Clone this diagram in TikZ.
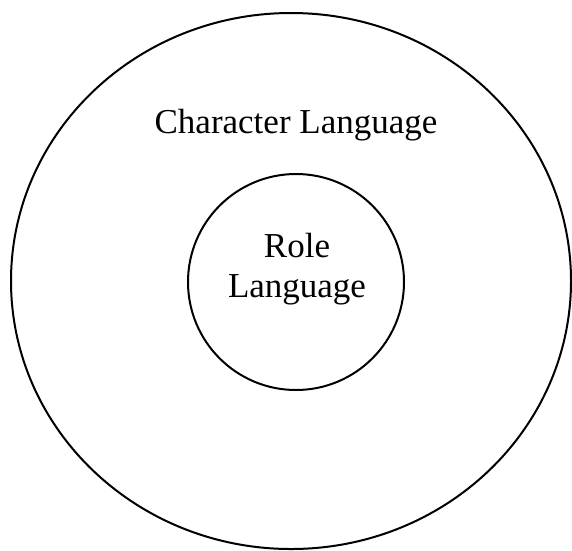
\documentclass[tikz,border=0pt]{standalone}
\usepackage{fontspec}
\setmainfont{Liberation Serif}
\tikzset{
  ring/.style={draw=black, line width=2pt},
  lbl/.style={font=\fontsize{35}{40}\selectfont, align=center, inner sep=0pt}
}
\begin{document}
\begin{tikzpicture}[x=1pt,y=-1pt]
\useasboundingbox (0,0) rectangle (572,550);
\draw[ring] (291,281) ellipse [x radius=280, y radius=268];
\node[ring, circle, minimum size=216pt, inner sep=0pt] (role) at (296,282) {};
\node[lbl, anchor=base] (outer) at (296,133) {Character Language};
\node[lbl, anchor=base] (inner) at (297,297) {Role\\Language};
\end{tikzpicture}
\end{document}
